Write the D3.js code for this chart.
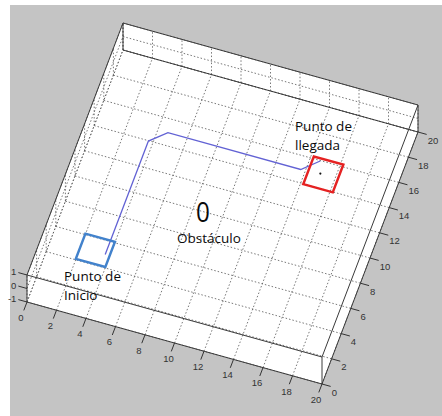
<!DOCTYPE html>
<html>
<head>
<meta charset="utf-8">
<script src="https://cdn.jsdelivr.net/npm/d3@7"></script>
<style>
  body { margin: 0; background: #fff; }
  svg { display: block; }
</style>
</head>
<body>
<svg id="chart" width="442" height="416"></svg>
<script>
// tick labels of the three axes
const xTicks = [0, 2, 4, 6, 8, 10, 12, 14, 16, 18, 20];
const yTicks = [0, 2, 4, 6, 8, 10, 12, 14, 16, 18, 20];
const zTicks = [-1, 0, 1];

// recorrido (path) on plane z = 0
const pathX = [4, 4, 5, 14, 15];
const pathY = [4, 13, 14, 14, 15];

// start / goal squares (x range, y range) and goal point, obstacle
const startX = [2.3, 4.3];
const startY = [3.1, 5.1];
const goalX = [14.5, 16.5];
const goalY = [13.0, 15.2];
const goalPoint = [15.3, 14.1];
const obstacle = [9, 9];

const svg = d3.select("#chart");

// figure background (matlab grey)
svg.append("rect")
    .attr("x", 10).attr("y", 5)
    .attr("width", 432).attr("height", 411)
    .attr("fill", "#c4c4c4");

// scales, then an oblique projection of the 3 scaled axes
const sx = d3.scaleLinear().domain([0, 20]).range([0, 1]);
const sy = d3.scaleLinear().domain([0, 20]).range([0, 1]);
const sz = d3.scaleLinear().domain([-1, 1]).range([0, 1]);
const O = [27, 302], EX = [295, 82], EY = [96, -252], EZ = [0, -27];

function proj(x, y, z) {
    const a = sx(x), b = sy(y), c = sz(z);
    return [O[0] + a * EX[0] + b * EY[0] + c * EZ[0],
            O[1] + a * EX[1] + b * EY[1] + c * EZ[1]];
}
const line = d3.line();
const seg = (p, q) => line([proj(...p), proj(...q)]);

// white box
const hull = [[0, 0, -1], [20, 0, -1], [20, 20, -1], [20, 20, 1], [0, 20, 1], [0, 0, 1]];
svg.append("path")
    .attr("d", line(hull.map(p => proj(...p))) + "Z")
    .attr("fill", "#fff");

// grid: floor, back wall (y=20), left wall (x=0)
const grid = svg.append("g")
    .attr("stroke", "#555")
    .attr("stroke-width", 0.8)
    .attr("stroke-dasharray", "1.5,2")
    .attr("fill", "none");

xTicks.forEach(x => {
    grid.append("path").attr("d", seg([x, 0, -1], [x, 20, -1]));
    grid.append("path").attr("d", seg([x, 20, -1], [x, 20, 1]));
});
yTicks.forEach(y => {
    grid.append("path").attr("d", seg([0, y, -1], [20, y, -1]));
    grid.append("path").attr("d", seg([0, y, -1], [0, y, 1]));
});
zTicks.forEach(z => {
    grid.append("path").attr("d", seg([0, 20, z], [20, 20, z]));
    grid.append("path").attr("d", seg([0, 0, z], [0, 20, z]));
});

// box edges
const edges = [
    [[0, 0, -1], [20, 0, -1]], [[0, 0, 1], [20, 0, 1]],
    [[0, 20, 1], [20, 20, 1]], [[0, 20, -1], [20, 20, -1]],
    [[0, 0, 1], [0, 20, 1]], [[20, 0, -1], [20, 20, -1]],
    [[20, 0, 1], [20, 20, 1]], [[0, 0, -1], [0, 0, 1]],
    [[20, 0, -1], [20, 0, 1]], [[20, 20, -1], [20, 20, 1]],
    [[0, 20, -1], [0, 20, 1]]
];
const box = svg.append("g").attr("stroke", "#3a3a3a").attr("stroke-width", 1).attr("fill", "none");
edges.forEach(e => box.append("path").attr("d", seg(e[0], e[1])));

// ticks and labels
const tickG = svg.append("g").attr("stroke", "#333").attr("stroke-width", 1);
const labG = svg.append("g")
    .style("font-family", "'Liberation Sans Narrow', 'Liberation Sans', Arial, sans-serif")
    .style("font-size", "9.5px")
    .attr("fill", "#333");

function unit(v) { const l = Math.hypot(v[0], v[1]); return [v[0] / l, v[1] / l]; }
const dX = unit([-EY[0], -EY[1]]);  // x ticks point away from y
const dY = unit(EX);                 // y ticks point along +x
const dZ = unit([-EX[0], -EX[1]]);   // z ticks point along -x

xTicks.forEach(x => {
    const p = proj(x, 0, -1);
    tickG.append("line").attr("x1", p[0]).attr("y1", p[1])
        .attr("x2", p[0] + dX[0] * 9).attr("y2", p[1] + dX[1] * 9);
    labG.append("text")
        .attr("x", p[0] + dX[0] * 17).attr("y", p[1] + dX[1] * 17 + 3)
        .attr("text-anchor", "middle")
        .text(x);
});
yTicks.forEach(y => {
    const p = proj(20, y, -1);
    tickG.append("line").attr("x1", p[0]).attr("y1", p[1])
        .attr("x2", p[0] + dY[0] * 9).attr("y2", p[1] + dY[1] * 9);
    labG.append("text")
        .attr("x", p[0] + dY[0] * 10).attr("y", p[1] + dY[1] * 10 + 9)
        .attr("text-anchor", "start")
        .text(y);
});
zTicks.forEach(z => {
    const p = proj(0, 0, z);
    tickG.append("line").attr("x1", p[0]).attr("y1", p[1])
        .attr("x2", p[0] + dZ[0] * 9).attr("y2", p[1] + dZ[1] * 9);
    labG.append("text")
        .attr("x", p[0] + dZ[0] * 10 - 1).attr("y", p[1] + dZ[1] * 10 + 3)
        .attr("text-anchor", "end")
        .text(z);
});

// path
svg.append("path")
    .attr("d", line(pathX.map((x, i) => proj(x, pathY[i], 0))))
    .attr("fill", "none")
    .attr("stroke", "#6262d4")
    .attr("stroke-width", 1.3);

// squares
function square(xr, yr) {
    return line([[xr[0], yr[0]], [xr[1], yr[0]], [xr[1], yr[1]], [xr[0], yr[1]]]
        .map(p => proj(p[0], p[1], 0))) + "Z";
}
svg.append("path").attr("d", square(startX, startY))
    .attr("fill", "none").attr("stroke", "#4282cc").attr("stroke-width", 2.5);
svg.append("path").attr("d", square(goalX, goalY))
    .attr("fill", "none").attr("stroke", "#e52222").attr("stroke-width", 2.5);
const gp = proj(goalPoint[0], goalPoint[1], 0);
svg.append("circle").attr("cx", gp[0]).attr("cy", gp[1]).attr("r", 1.1).attr("fill", "#111");

// annotations
const txt = svg.append("g")
    .style("font-family", "'Open Sans', 'Noto Sans', sans-serif")
    .style("font-size", "13.5px")
    .attr("fill", "#0a0a0a");

const op = proj(obstacle[0], obstacle[1], 0);
txt.append("text").attr("x", op[0]).attr("y", op[1] + 10)
    .attr("text-anchor", "middle").style("font-size", "27px")
    .attr("transform", `translate(${op[0]},0) scale(0.9,1) translate(${-op[0]},0)`)
    .text("0");
txt.append("text").attr("x", op[0] + 6).attr("y", op[1] + 31)
    .attr("text-anchor", "middle").text("Obstáculo");

txt.append("text").attr("x", 64).attr("y", 281).text("Punto de");
txt.append("text").attr("x", 64).attr("y", 300).text("Inicio");
txt.append("text").attr("x", 295).attr("y", 131).text("Punto de");
txt.append("text").attr("x", 295).attr("y", 150).text("llegada");
</script>
</body>
</html>
